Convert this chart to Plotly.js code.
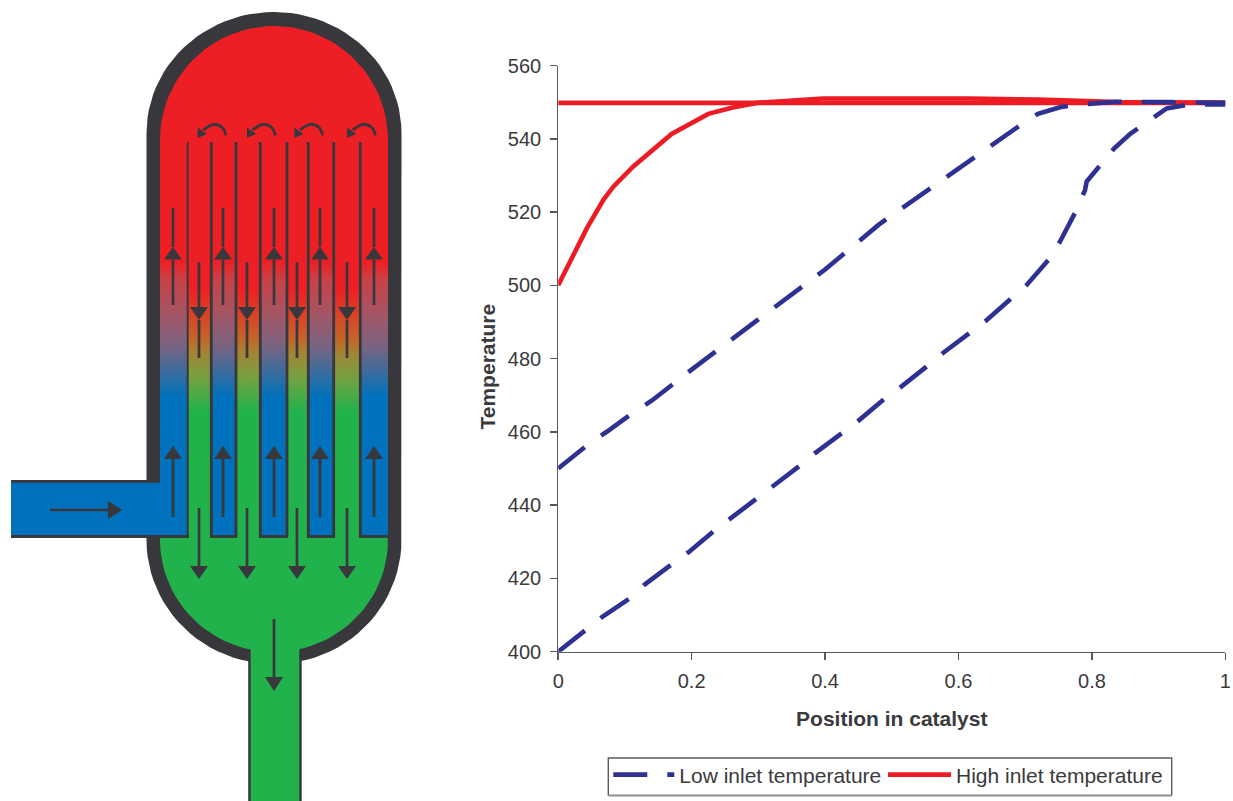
<!DOCTYPE html>
<html>
<head>
<meta charset="utf-8">
<script src="https://cdn.plot.ly/plotly-3.0.1.min.js"></script>
<style>html,body{margin:0;padding:0;background:#fff}#chart{width:1233px;height:801px}</style>
</head>
<body>
<div id="chart"></div>
<script>
// ---- chart data -----------------------------------------------------------
const lowA_x = [0,0.0402,0.0667,0.1076,0.130,0.1706,0.195,0.2325,0.2585,0.2975,0.3224,0.3624,0.385,0.4258,0.4498,0.4888,0.5138,0.5547,0.5772,0.6183,0.6407,0.6782,0.7022,0.7356,0.752,0.777,0.7896,0.7921,0.7996,0.833,0.857,0.897,0.912,0.947,1];
const lowA_y = [400,405.7,409.6,414.6,418.4,423.9,427.1,432.8,436.4,441.6,445.2,450.8,454.2,459.8,463,469,472.3,478.2,481.6,487.2,490.3,496.3,500.1,507.1,511.9,520.6,526,528.3,529.9,537.3,541.3,546.5,548.3,549.4,549.4];
const lowB_x = [0,0.045,0.0733,0.112,0.14,0.2,0.3,0.37,0.4,0.48,0.591,0.632,0.657,0.701,0.719,0.752,0.777,0.837,0.92,1];
const lowB_y = [450,456.6,460.1,465.2,468.5,477,490.7,500.2,504.3,516.5,530.8,535.8,539.3,544.8,546.8,548.6,549.3,550.1,550,549.8];
const highA_x = [0,0.043,0.068,0.083,0.113,0.17,0.225,0.263,0.298,0.397,0.617,0.72,0.84,1];
const highA_y = [500,515.6,523.4,527,532.5,541.3,546.8,548.6,549.8,551,551,550.7,550,549.8];
const highB_x = [0,1];
const highB_y = [549.8,549.8];
const xTicks = [0,0.2,0.4,0.6,0.8,1];
const yTicks = [400,420,440,460,480,500,520,540,560];
const seriesNames = ['Low inlet temperature','High inlet temperature'];

// ---- reactor schematic (page-pixel axes) -----------------------------------
const DARK='#38373C', RED='#ED1F24', GREEN='#22B24C', BLUE='#0071BC';
const tubeLeft  = [160,211.3,260.3,308.3,360.3];
const tubeRight = [188,236,287,333.7,388];
const wallX     = [211.3,236,260.3,287,308.3,333.7,360.3];
const upX   = [173,223,274,320,374];
const downX = [199,247,297,347];
const swirlX= [213.3,262.7,310,362.7];

function ellipse(cx,cy,a,b,from,to,n){const xs=[],ys=[];for(let i=0;i<=n;i++){const t=(from+(to-from)*i/n)*Math.PI/180;xs.push(cx+a*Math.cos(t));ys.push(cy+b*Math.sin(t));}return [xs,ys];}
function vessel(a,topY,domeY,botY,b){
  const top=ellipse(274,domeY,a,domeY-topY,180,360,48), bot=ellipse(274,botY,a,b,0,180,48);
  return [top[0].concat(bot[0]),top[1].concat(bot[1])];
}
const ax={xaxis:'x2',yaxis:'y2',showlegend:false,hoverinfo:'skip',mode:'lines'};
function poly(xs,ys,fill,extra){return Object.assign({},ax,{x:xs,y:ys,fill:'toself',fillcolor:fill,line:{width:0}},extra||{});}
function rect(x0,x1,y0,y1,fill){return poly([x0,x1,x1,x0,x0],[y0,y0,y1,y1,y0],fill);}
function seg(xs,ys,w,c){return Object.assign({},ax,{x:xs,y:ys,line:{color:c||DARK,width:w}});}
function arrow(x0,y0,x1,y1,hl){ // straight arrow with head length hl, half width 9
  const dx=Math.sign(x1-x0),dy=Math.sign(y1-y0);
  const bx=x1-dx*hl,by=y1-dy*hl;
  return [seg([x0,bx],[y0,by],2.7),
    poly([x1,bx-dy*9,bx+dy*9,x1],[y1,by-dx*9,by+dx*9,y1],DARK)];
}
const outer=vessel(127.5,12,133,540,124), inner=vessel(114,26,140,540,112);
let tubeXs=[],tubeYs=[];
tubeLeft.forEach((l,i)=>{const r=tubeRight[i];tubeXs.push(l,r,r,l,l,null);tubeYs.push(142,142,536,536,142,null);});

const schematic=[
  poly(outer[0],outer[1],DARK),
  rect(248.2,301.7,630,801,DARK),
  poly(inner[0],inner[1],RED,{fillgradient:{type:'vertical',start:26,stop:652,
    colorscale:[[0,RED],[0.42,RED],[0.5,'rgb(196,100,42)'],[0.52,'rgb(165,130,50)'],[0.56,'rgb(120,160,65)'],[0.615,GREEN],[1,GREEN]]}}),
  rect(250.7,299.3,640,801,GREEN),
  poly(tubeXs,tubeYs,BLUE,{fillgradient:{type:'vertical',start:262,stop:397,
    colorscale:[[0,RED],[0.13,'rgb(200,65,70)'],[0.38,'rgb(165,85,100)'],[0.63,'rgb(120,100,130)'],[0.87,'rgb(40,110,165)'],[1,BLUE]]}}),
  rect(11,162,481,536,BLUE)
];
wallX.forEach(x=>schematic.push(seg([x,x],[142,537],2.8)));
schematic.push(seg([187.7,187.7],[142,537],2));
schematic.push(seg([11,160],[481.4,481.4],2.8));
schematic.push(seg([11,189],[536.5,536.5],2.8));
[[210,237],[259,288],[307,335],[359,388]].forEach(p=>schematic.push(seg(p,[536.5,536.5],2.8)));
upX.forEach(x=>{schematic.push(...arrow(x,305,x,247,12.5));schematic.push(seg([x,x],[208,247],2.7));schematic.push(...arrow(x,517,x,446,13));});
downX.forEach(x=>{schematic.push(...arrow(x,262,x,320,13));schematic.push(seg([x,x],[320,358],2.7));schematic.push(...arrow(x,508,x,579,13));});
schematic.push(...arrow(274,619,274,691,14));
schematic.push(...arrow(50,510,122,510,14));
swirlX.forEach(x=>{
  schematic.push(Object.assign({},ax,{x:[x+12.7,x+9,x,x-10],y:[135.3,127.5,124.3,130],line:{color:DARK,width:2.8,shape:'spline'}}));
  schematic.push(poly([x-15.8,x-15.6,x-6.5,x-15.8],[138,127.5,134,138],DARK));
});
// legend frame
const frameX=[608.3,1171.7], frameY=[758,795.6];
schematic.push(seg([frameX[0],frameX[0],frameX[1],frameX[1]],[frameY[1],frameY[0],frameY[0],frameY[1]],1.4,'#58595B'));
schematic.push(seg(frameX,[frameY[1],frameY[1]],2,'#8e8e8e'));

// ---- curves ----------------------------------------------------------------
const redLine={color:'#ED1C24',width:4.6}, blueLine={color:'#2E3192',width:4.6,dash:'34px,20px'};
const curves=[
 {x:highB_x,y:highB_y,mode:'lines',name:seriesNames[1],legendgroup:'high',showlegend:false,line:redLine,cliponaxis:false,legend:'legend2'},
 {x:highA_x,y:highA_y,mode:'lines',name:seriesNames[1],legendgroup:'high',showlegend:true,line:redLine,cliponaxis:false,legend:'legend2'},
 {x:lowB_x,y:lowB_y,mode:'lines',name:seriesNames[0],legendgroup:'low',showlegend:false,line:blueLine,cliponaxis:false},
 {x:lowA_x,y:lowA_y,mode:'lines',name:seriesNames[0],legendgroup:'low',showlegend:true,line:blueLine,cliponaxis:false}
];

const TXT='#3A3A3C', AX='#58595B', FONT='"Liberation Sans", Arial, sans-serif';
const W=1233,H=801;
const axisCommon={showgrid:false,zeroline:false,showline:true,linecolor:AX,linewidth:1.5,ticks:'outside',ticklen:6.5,tickwidth:1.5,tickcolor:AX,tickfont:{family:FONT,size:20,color:TXT}};
const legendCommon={orientation:'v',xanchor:'left',y:(H-754.5)/H,yanchor:'top',bgcolor:'rgba(0,0,0,0)',borderwidth:0,font:{family:FONT,size:21,color:TXT}};
const layout={
  width:W,height:H,margin:{l:0,r:0,t:0,b:0},paper_bgcolor:'#fff',plot_bgcolor:'rgba(0,0,0,0)',
  font:{family:FONT,color:TXT},
  xaxis:Object.assign({},axisCommon,{domain:[558.2/W,1225.4/W],range:[0,1],tickmode:'array',tickvals:xTicks,ticktext:xTicks.map(String),anchor:'y',ticklabelstandoff:4,
    title:{text:'Position in catalyst',font:{family:FONT,size:21,color:TXT,weight:700},standoff:20}}),
  yaxis:Object.assign({},axisCommon,{domain:[(H-651.7)/H,(H-65.5)/H],range:[400,560],tickmode:'array',tickvals:yTicks,ticktext:yTicks.map(String),anchor:'x',ticklabelstandoff:5}),
  xaxis2:{domain:[0,1],range:[0,W],visible:false,anchor:'y2',fixedrange:true},
  yaxis2:{domain:[0,1],range:[H,0],visible:false,anchor:'x2',fixedrange:true},
  annotations:[{text:'Temperature',xref:'x2',yref:'y2',x:487,y:366.5,textangle:-90,showarrow:false,xanchor:'center',yanchor:'middle',font:{family:FONT,size:21,color:TXT,weight:700}}],
  legend:Object.assign({},legendCommon,{x:608.3/W,itemwidth:61}),
  legend2:Object.assign({},legendCommon,{x:883/W,itemwidth:63}),
  showlegend:true
};
Plotly.newPlot('chart',schematic.concat(curves),layout,{displayModeBar:false,staticPlot:true});
</script>
</body>
</html>
